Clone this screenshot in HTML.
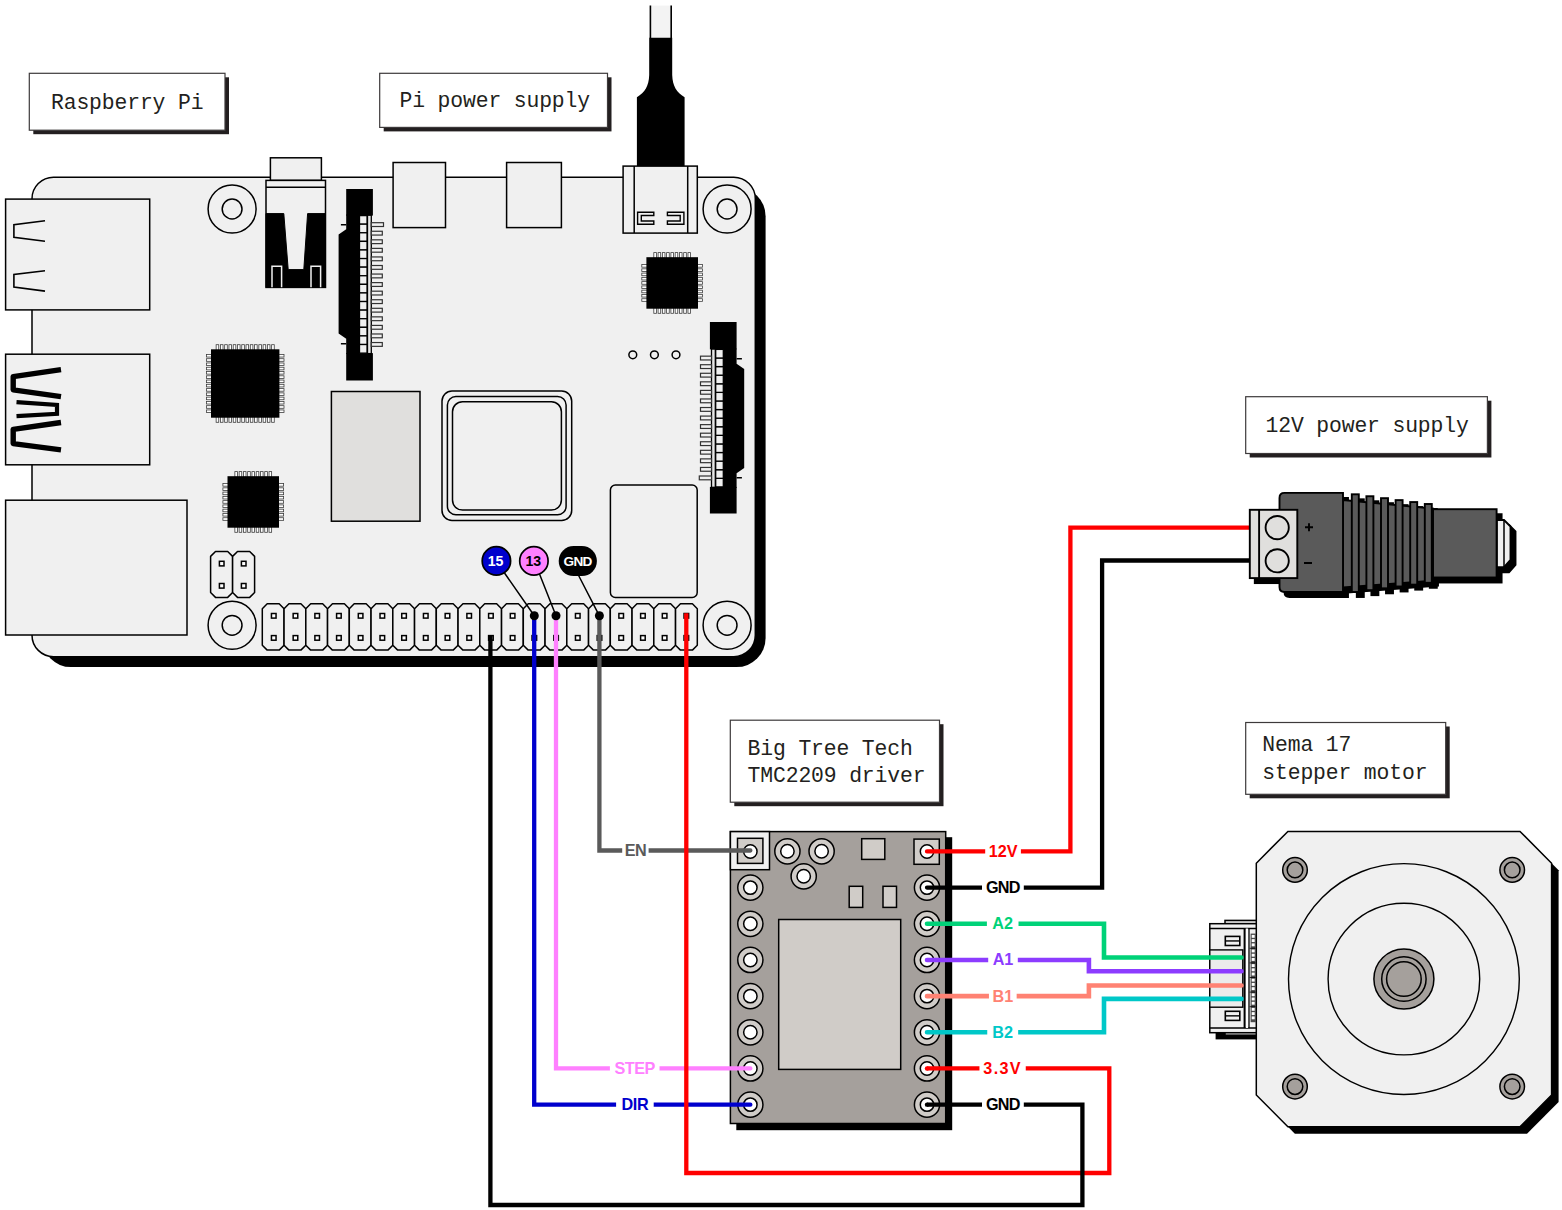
<!DOCTYPE html>
<html lang="en">
<head>
<meta charset="utf-8">
<title>Raspberry Pi - TMC2209 - Nema 17 wiring</title>
<style>
html,body{margin:0;padding:0;background:#fff;}
body{width:1562px;height:1210px;overflow:hidden;}
svg{display:block;}
.lab{font-family:"Liberation Mono","DejaVu Sans Mono",monospace;fill:#231f20;}
.wl{font-family:"Liberation Sans","DejaVu Sans",sans-serif;font-weight:bold;text-anchor:middle;}
.leg{fill:#fff;stroke:#3c3c3c;stroke-width:0.8;}
</style>
</head>
<body>
<svg width="1562" height="1210" viewBox="0 0 1562 1210">
<rect width="1562" height="1210" fill="#fff"/>
<rect x="42" y="187.2" width="723.6" height="479.9" rx="29" fill="#000"/>
<rect x="32" y="177.2" width="723.3" height="479.5" rx="21.5" fill="#f0f0f0" stroke="#000" stroke-width="1.5"/>
<circle cx="232.10" cy="209.00" r="24.00" fill="#f0f0f0" stroke="#000" stroke-width="1.5"/>
<circle cx="232.10" cy="209.00" r="9.90" fill="#f0f0f0" stroke="#000" stroke-width="1.5"/>
<circle cx="727.10" cy="209.00" r="24.00" fill="#f0f0f0" stroke="#000" stroke-width="1.5"/>
<circle cx="727.10" cy="209.00" r="9.90" fill="#f0f0f0" stroke="#000" stroke-width="1.5"/>
<circle cx="232.10" cy="625.30" r="24.00" fill="#f0f0f0" stroke="#000" stroke-width="1.5"/>
<circle cx="232.10" cy="625.30" r="9.90" fill="#f0f0f0" stroke="#000" stroke-width="1.5"/>
<circle cx="727.10" cy="625.30" r="24.00" fill="#f0f0f0" stroke="#000" stroke-width="1.5"/>
<circle cx="727.10" cy="625.30" r="9.90" fill="#f0f0f0" stroke="#000" stroke-width="1.5"/>
<rect x="5.60" y="199.10" width="144.10" height="110.80" fill="#f0f0f0" stroke="#000" stroke-width="1.5"/>
<rect x="5.60" y="354.20" width="144.10" height="110.60" fill="#f0f0f0" stroke="#000" stroke-width="1.5"/>
<rect x="5.60" y="500.20" width="181.40" height="134.80" fill="#f0f0f0" stroke="#000" stroke-width="1.5"/>
<path d="M45 220.7L13.9 224.7L13.9 237.4L45 241.2" fill="none" stroke="#000" stroke-width="1.6" />
<path d="M45 270.7L13.9 274.4L13.9 287L45 291.1" fill="none" stroke="#000" stroke-width="1.6" />
<path d="M61 369.6L13.2 376.6L13.2 389.8L61 396.7" fill="none" stroke="#000" stroke-width="5.4" stroke-linejoin="round"/>
<path d="M61 422.5L13.2 429.3L13.2 443.6L61 449.9" fill="none" stroke="#000" stroke-width="5.4" stroke-linejoin="round"/>
<path d="M16.5 402.2L57 405L57 413.8L16.5 416.1" fill="none" stroke="#000" stroke-width="4.2" />
<rect x="270.40" y="157.80" width="51.00" height="22.60" fill="#f0f0f0" stroke="#000" stroke-width="1.5"/>
<rect x="266.00" y="180.40" width="59.50" height="107.00" fill="#f0f0f0" stroke="#000" stroke-width="1.5"/>
<path d="M266 187.3L325.5 187.3" fill="none" stroke="#000" stroke-width="1.5" />
<path d="M266 213.6L283.8 213.6L288.2 269.6L303.8 269.6L307.6 213.6L325.5 213.6L325.5 287.4L266 287.4Z" fill="#000" stroke="#000" stroke-width="1" />
<path d="M272 287.2L272 266.2L281.6 266.2L281.6 287.2" fill="none" stroke="#f0f0f0" stroke-width="1.5" />
<path d="M311 287.2L311 266.2L320.6 266.2L320.6 287.2" fill="none" stroke="#f0f0f0" stroke-width="1.5" />
<g transform="translate(346.20 189.00)">
<rect x="13.3" y="26.60" width="7.6" height="8.59" fill="#f0f0f0" stroke="#000" stroke-width="1.3"/>
<rect x="13.3" y="35.19" width="7.6" height="8.59" fill="#f0f0f0" stroke="#000" stroke-width="1.3"/>
<rect x="13.3" y="43.79" width="7.6" height="8.59" fill="#f0f0f0" stroke="#000" stroke-width="1.3"/>
<rect x="13.3" y="52.38" width="7.6" height="8.59" fill="#f0f0f0" stroke="#000" stroke-width="1.3"/>
<rect x="13.3" y="60.98" width="7.6" height="8.59" fill="#f0f0f0" stroke="#000" stroke-width="1.3"/>
<rect x="13.3" y="69.57" width="7.6" height="8.59" fill="#f0f0f0" stroke="#000" stroke-width="1.3"/>
<rect x="13.3" y="78.16" width="7.6" height="8.59" fill="#f0f0f0" stroke="#000" stroke-width="1.3"/>
<rect x="13.3" y="86.76" width="7.6" height="8.59" fill="#f0f0f0" stroke="#000" stroke-width="1.3"/>
<rect x="13.3" y="95.35" width="7.6" height="8.59" fill="#f0f0f0" stroke="#000" stroke-width="1.3"/>
<rect x="13.3" y="103.94" width="7.6" height="8.59" fill="#f0f0f0" stroke="#000" stroke-width="1.3"/>
<rect x="13.3" y="112.54" width="7.6" height="8.59" fill="#f0f0f0" stroke="#000" stroke-width="1.3"/>
<rect x="13.3" y="121.13" width="7.6" height="8.59" fill="#f0f0f0" stroke="#000" stroke-width="1.3"/>
<rect x="13.3" y="129.72" width="7.6" height="8.59" fill="#f0f0f0" stroke="#000" stroke-width="1.3"/>
<rect x="13.3" y="138.32" width="7.6" height="8.59" fill="#f0f0f0" stroke="#000" stroke-width="1.3"/>
<rect x="13.3" y="146.91" width="7.6" height="8.59" fill="#f0f0f0" stroke="#000" stroke-width="1.3"/>
<rect x="13.3" y="155.51" width="7.6" height="8.59" fill="#f0f0f0" stroke="#000" stroke-width="1.3"/>
<rect x="21.3" y="26.10" width="3.8" height="138.50" fill="#e6e6e6" stroke="#000" stroke-width="1.3"/>
<rect x="25.1" y="33.70" width="12.2" height="3.8" fill="#f0f0f0" stroke="#333" stroke-width="1.2"/>
<rect x="25.1" y="42.26" width="11" height="3.8" fill="#f0f0f0" stroke="#333" stroke-width="1.2"/>
<rect x="25.1" y="50.82" width="11" height="3.8" fill="#f0f0f0" stroke="#333" stroke-width="1.2"/>
<rect x="25.1" y="59.38" width="11" height="3.8" fill="#f0f0f0" stroke="#333" stroke-width="1.2"/>
<rect x="25.1" y="67.94" width="11" height="3.8" fill="#f0f0f0" stroke="#333" stroke-width="1.2"/>
<rect x="25.1" y="76.50" width="11" height="3.8" fill="#f0f0f0" stroke="#333" stroke-width="1.2"/>
<rect x="25.1" y="85.06" width="11" height="3.8" fill="#f0f0f0" stroke="#333" stroke-width="1.2"/>
<rect x="25.1" y="93.62" width="11" height="3.8" fill="#f0f0f0" stroke="#333" stroke-width="1.2"/>
<rect x="25.1" y="102.18" width="11" height="3.8" fill="#f0f0f0" stroke="#333" stroke-width="1.2"/>
<rect x="25.1" y="110.74" width="11" height="3.8" fill="#f0f0f0" stroke="#333" stroke-width="1.2"/>
<rect x="25.1" y="119.30" width="11" height="3.8" fill="#f0f0f0" stroke="#333" stroke-width="1.2"/>
<rect x="25.1" y="127.86" width="11" height="3.8" fill="#f0f0f0" stroke="#333" stroke-width="1.2"/>
<rect x="25.1" y="136.42" width="11" height="3.8" fill="#f0f0f0" stroke="#333" stroke-width="1.2"/>
<rect x="25.1" y="144.98" width="11" height="3.8" fill="#f0f0f0" stroke="#333" stroke-width="1.2"/>
<rect x="25.1" y="153.54" width="11" height="3.8" fill="#f0f0f0" stroke="#333" stroke-width="1.2"/>
<rect x="0" y="0" width="26.7" height="26.6" fill="#000"/>
<rect x="0" y="164.10" width="26.7" height="27.4" fill="#000"/>
<path d="M0 25.6L13.3 25.6L13.3 165.1L0 165.1L0 149.8L-7.6 144.5L-7.6 45.6L0 40.3Z" fill="#000"/>
<path d="M-5.3 35.8L0 35.8M-5.3 154.8L0 154.8" stroke="#000" stroke-width="1.5"/>
</g>
<g transform="translate(736.60 513.50) scale(-1 -1)">
<rect x="13.3" y="26.60" width="7.6" height="8.59" fill="#f0f0f0" stroke="#000" stroke-width="1.3"/>
<rect x="13.3" y="35.19" width="7.6" height="8.59" fill="#f0f0f0" stroke="#000" stroke-width="1.3"/>
<rect x="13.3" y="43.79" width="7.6" height="8.59" fill="#f0f0f0" stroke="#000" stroke-width="1.3"/>
<rect x="13.3" y="52.38" width="7.6" height="8.59" fill="#f0f0f0" stroke="#000" stroke-width="1.3"/>
<rect x="13.3" y="60.98" width="7.6" height="8.59" fill="#f0f0f0" stroke="#000" stroke-width="1.3"/>
<rect x="13.3" y="69.57" width="7.6" height="8.59" fill="#f0f0f0" stroke="#000" stroke-width="1.3"/>
<rect x="13.3" y="78.16" width="7.6" height="8.59" fill="#f0f0f0" stroke="#000" stroke-width="1.3"/>
<rect x="13.3" y="86.76" width="7.6" height="8.59" fill="#f0f0f0" stroke="#000" stroke-width="1.3"/>
<rect x="13.3" y="95.35" width="7.6" height="8.59" fill="#f0f0f0" stroke="#000" stroke-width="1.3"/>
<rect x="13.3" y="103.94" width="7.6" height="8.59" fill="#f0f0f0" stroke="#000" stroke-width="1.3"/>
<rect x="13.3" y="112.54" width="7.6" height="8.59" fill="#f0f0f0" stroke="#000" stroke-width="1.3"/>
<rect x="13.3" y="121.13" width="7.6" height="8.59" fill="#f0f0f0" stroke="#000" stroke-width="1.3"/>
<rect x="13.3" y="129.72" width="7.6" height="8.59" fill="#f0f0f0" stroke="#000" stroke-width="1.3"/>
<rect x="13.3" y="138.32" width="7.6" height="8.59" fill="#f0f0f0" stroke="#000" stroke-width="1.3"/>
<rect x="13.3" y="146.91" width="7.6" height="8.59" fill="#f0f0f0" stroke="#000" stroke-width="1.3"/>
<rect x="13.3" y="155.51" width="7.6" height="8.59" fill="#f0f0f0" stroke="#000" stroke-width="1.3"/>
<rect x="21.3" y="26.10" width="3.8" height="138.50" fill="#e6e6e6" stroke="#000" stroke-width="1.3"/>
<rect x="25.1" y="33.70" width="12.2" height="3.8" fill="#f0f0f0" stroke="#333" stroke-width="1.2"/>
<rect x="25.1" y="42.26" width="11" height="3.8" fill="#f0f0f0" stroke="#333" stroke-width="1.2"/>
<rect x="25.1" y="50.82" width="11" height="3.8" fill="#f0f0f0" stroke="#333" stroke-width="1.2"/>
<rect x="25.1" y="59.38" width="11" height="3.8" fill="#f0f0f0" stroke="#333" stroke-width="1.2"/>
<rect x="25.1" y="67.94" width="11" height="3.8" fill="#f0f0f0" stroke="#333" stroke-width="1.2"/>
<rect x="25.1" y="76.50" width="11" height="3.8" fill="#f0f0f0" stroke="#333" stroke-width="1.2"/>
<rect x="25.1" y="85.06" width="11" height="3.8" fill="#f0f0f0" stroke="#333" stroke-width="1.2"/>
<rect x="25.1" y="93.62" width="11" height="3.8" fill="#f0f0f0" stroke="#333" stroke-width="1.2"/>
<rect x="25.1" y="102.18" width="11" height="3.8" fill="#f0f0f0" stroke="#333" stroke-width="1.2"/>
<rect x="25.1" y="110.74" width="11" height="3.8" fill="#f0f0f0" stroke="#333" stroke-width="1.2"/>
<rect x="25.1" y="119.30" width="11" height="3.8" fill="#f0f0f0" stroke="#333" stroke-width="1.2"/>
<rect x="25.1" y="127.86" width="11" height="3.8" fill="#f0f0f0" stroke="#333" stroke-width="1.2"/>
<rect x="25.1" y="136.42" width="11" height="3.8" fill="#f0f0f0" stroke="#333" stroke-width="1.2"/>
<rect x="25.1" y="144.98" width="11" height="3.8" fill="#f0f0f0" stroke="#333" stroke-width="1.2"/>
<rect x="25.1" y="153.54" width="11" height="3.8" fill="#f0f0f0" stroke="#333" stroke-width="1.2"/>
<rect x="0" y="0" width="26.7" height="26.6" fill="#000"/>
<rect x="0" y="164.10" width="26.7" height="27.4" fill="#000"/>
<path d="M0 25.6L13.3 25.6L13.3 165.1L0 165.1L0 149.8L-7.6 144.5L-7.6 45.6L0 40.3Z" fill="#000"/>
<path d="M-5.3 35.8L0 35.8M-5.3 154.8L0 154.8" stroke="#000" stroke-width="1.5"/>
</g>
<rect x="393.10" y="162.50" width="52.40" height="65.10" fill="#f0f0f0" stroke="#000" stroke-width="1.5"/>
<rect x="506.60" y="162.50" width="54.80" height="65.10" fill="#f0f0f0" stroke="#000" stroke-width="1.5"/>
<rect x="216.14" y="344.70" width="2.6" height="5.6" class="leg"/>
<rect x="216.14" y="416.70" width="2.6" height="5.6" class="leg"/>
<rect x="206.40" y="354.44" width="5.6" height="2.6" class="leg"/>
<rect x="278.40" y="354.44" width="5.6" height="2.6" class="leg"/>
<rect x="220.41" y="344.70" width="2.6" height="5.6" class="leg"/>
<rect x="220.41" y="416.70" width="2.6" height="5.6" class="leg"/>
<rect x="206.40" y="358.71" width="5.6" height="2.6" class="leg"/>
<rect x="278.40" y="358.71" width="5.6" height="2.6" class="leg"/>
<rect x="224.68" y="344.70" width="2.6" height="5.6" class="leg"/>
<rect x="224.68" y="416.70" width="2.6" height="5.6" class="leg"/>
<rect x="206.40" y="362.99" width="5.6" height="2.6" class="leg"/>
<rect x="278.40" y="362.99" width="5.6" height="2.6" class="leg"/>
<rect x="228.95" y="344.70" width="2.6" height="5.6" class="leg"/>
<rect x="228.95" y="416.70" width="2.6" height="5.6" class="leg"/>
<rect x="206.40" y="367.25" width="5.6" height="2.6" class="leg"/>
<rect x="278.40" y="367.25" width="5.6" height="2.6" class="leg"/>
<rect x="233.22" y="344.70" width="2.6" height="5.6" class="leg"/>
<rect x="233.22" y="416.70" width="2.6" height="5.6" class="leg"/>
<rect x="206.40" y="371.52" width="5.6" height="2.6" class="leg"/>
<rect x="278.40" y="371.52" width="5.6" height="2.6" class="leg"/>
<rect x="237.49" y="344.70" width="2.6" height="5.6" class="leg"/>
<rect x="237.49" y="416.70" width="2.6" height="5.6" class="leg"/>
<rect x="206.40" y="375.80" width="5.6" height="2.6" class="leg"/>
<rect x="278.40" y="375.80" width="5.6" height="2.6" class="leg"/>
<rect x="241.76" y="344.70" width="2.6" height="5.6" class="leg"/>
<rect x="241.76" y="416.70" width="2.6" height="5.6" class="leg"/>
<rect x="206.40" y="380.06" width="5.6" height="2.6" class="leg"/>
<rect x="278.40" y="380.06" width="5.6" height="2.6" class="leg"/>
<rect x="246.03" y="344.70" width="2.6" height="5.6" class="leg"/>
<rect x="246.03" y="416.70" width="2.6" height="5.6" class="leg"/>
<rect x="206.40" y="384.33" width="5.6" height="2.6" class="leg"/>
<rect x="278.40" y="384.33" width="5.6" height="2.6" class="leg"/>
<rect x="250.30" y="344.70" width="2.6" height="5.6" class="leg"/>
<rect x="250.30" y="416.70" width="2.6" height="5.6" class="leg"/>
<rect x="206.40" y="388.60" width="5.6" height="2.6" class="leg"/>
<rect x="278.40" y="388.60" width="5.6" height="2.6" class="leg"/>
<rect x="254.57" y="344.70" width="2.6" height="5.6" class="leg"/>
<rect x="254.57" y="416.70" width="2.6" height="5.6" class="leg"/>
<rect x="206.40" y="392.88" width="5.6" height="2.6" class="leg"/>
<rect x="278.40" y="392.88" width="5.6" height="2.6" class="leg"/>
<rect x="258.84" y="344.70" width="2.6" height="5.6" class="leg"/>
<rect x="258.84" y="416.70" width="2.6" height="5.6" class="leg"/>
<rect x="206.40" y="397.14" width="5.6" height="2.6" class="leg"/>
<rect x="278.40" y="397.14" width="5.6" height="2.6" class="leg"/>
<rect x="263.11" y="344.70" width="2.6" height="5.6" class="leg"/>
<rect x="263.11" y="416.70" width="2.6" height="5.6" class="leg"/>
<rect x="206.40" y="401.42" width="5.6" height="2.6" class="leg"/>
<rect x="278.40" y="401.42" width="5.6" height="2.6" class="leg"/>
<rect x="267.38" y="344.70" width="2.6" height="5.6" class="leg"/>
<rect x="267.38" y="416.70" width="2.6" height="5.6" class="leg"/>
<rect x="206.40" y="405.69" width="5.6" height="2.6" class="leg"/>
<rect x="278.40" y="405.69" width="5.6" height="2.6" class="leg"/>
<rect x="271.65" y="344.70" width="2.6" height="5.6" class="leg"/>
<rect x="271.65" y="416.70" width="2.6" height="5.6" class="leg"/>
<rect x="206.40" y="409.95" width="5.6" height="2.6" class="leg"/>
<rect x="278.40" y="409.95" width="5.6" height="2.6" class="leg"/>
<rect x="211.00" y="349.30" width="68.40" height="68.40" fill="#000"/>
<rect x="234.87" y="471.60" width="2.6" height="5.6" class="leg"/>
<rect x="234.87" y="526.70" width="2.6" height="5.6" class="leg"/>
<rect x="222.90" y="483.57" width="5.6" height="2.6" class="leg"/>
<rect x="278.00" y="483.57" width="5.6" height="2.6" class="leg"/>
<rect x="239.14" y="471.60" width="2.6" height="5.6" class="leg"/>
<rect x="239.14" y="526.70" width="2.6" height="5.6" class="leg"/>
<rect x="222.90" y="487.84" width="5.6" height="2.6" class="leg"/>
<rect x="278.00" y="487.84" width="5.6" height="2.6" class="leg"/>
<rect x="243.41" y="471.60" width="2.6" height="5.6" class="leg"/>
<rect x="243.41" y="526.70" width="2.6" height="5.6" class="leg"/>
<rect x="222.90" y="492.11" width="5.6" height="2.6" class="leg"/>
<rect x="278.00" y="492.11" width="5.6" height="2.6" class="leg"/>
<rect x="247.68" y="471.60" width="2.6" height="5.6" class="leg"/>
<rect x="247.68" y="526.70" width="2.6" height="5.6" class="leg"/>
<rect x="222.90" y="496.38" width="5.6" height="2.6" class="leg"/>
<rect x="278.00" y="496.38" width="5.6" height="2.6" class="leg"/>
<rect x="251.95" y="471.60" width="2.6" height="5.6" class="leg"/>
<rect x="251.95" y="526.70" width="2.6" height="5.6" class="leg"/>
<rect x="222.90" y="500.65" width="5.6" height="2.6" class="leg"/>
<rect x="278.00" y="500.65" width="5.6" height="2.6" class="leg"/>
<rect x="256.22" y="471.60" width="2.6" height="5.6" class="leg"/>
<rect x="256.22" y="526.70" width="2.6" height="5.6" class="leg"/>
<rect x="222.90" y="504.92" width="5.6" height="2.6" class="leg"/>
<rect x="278.00" y="504.92" width="5.6" height="2.6" class="leg"/>
<rect x="260.49" y="471.60" width="2.6" height="5.6" class="leg"/>
<rect x="260.49" y="526.70" width="2.6" height="5.6" class="leg"/>
<rect x="222.90" y="509.19" width="5.6" height="2.6" class="leg"/>
<rect x="278.00" y="509.19" width="5.6" height="2.6" class="leg"/>
<rect x="264.76" y="471.60" width="2.6" height="5.6" class="leg"/>
<rect x="264.76" y="526.70" width="2.6" height="5.6" class="leg"/>
<rect x="222.90" y="513.46" width="5.6" height="2.6" class="leg"/>
<rect x="278.00" y="513.46" width="5.6" height="2.6" class="leg"/>
<rect x="269.03" y="471.60" width="2.6" height="5.6" class="leg"/>
<rect x="269.03" y="526.70" width="2.6" height="5.6" class="leg"/>
<rect x="222.90" y="517.73" width="5.6" height="2.6" class="leg"/>
<rect x="278.00" y="517.73" width="5.6" height="2.6" class="leg"/>
<rect x="227.50" y="476.20" width="51.50" height="51.50" fill="#000"/>
<rect x="653.82" y="252.60" width="2.6" height="5.6" class="leg"/>
<rect x="653.82" y="307.70" width="2.6" height="5.6" class="leg"/>
<rect x="641.80" y="264.57" width="5.6" height="2.6" class="leg"/>
<rect x="697.00" y="264.57" width="5.6" height="2.6" class="leg"/>
<rect x="658.09" y="252.60" width="2.6" height="5.6" class="leg"/>
<rect x="658.09" y="307.70" width="2.6" height="5.6" class="leg"/>
<rect x="641.80" y="268.84" width="5.6" height="2.6" class="leg"/>
<rect x="697.00" y="268.84" width="5.6" height="2.6" class="leg"/>
<rect x="662.36" y="252.60" width="2.6" height="5.6" class="leg"/>
<rect x="662.36" y="307.70" width="2.6" height="5.6" class="leg"/>
<rect x="641.80" y="273.11" width="5.6" height="2.6" class="leg"/>
<rect x="697.00" y="273.11" width="5.6" height="2.6" class="leg"/>
<rect x="666.63" y="252.60" width="2.6" height="5.6" class="leg"/>
<rect x="666.63" y="307.70" width="2.6" height="5.6" class="leg"/>
<rect x="641.80" y="277.38" width="5.6" height="2.6" class="leg"/>
<rect x="697.00" y="277.38" width="5.6" height="2.6" class="leg"/>
<rect x="670.90" y="252.60" width="2.6" height="5.6" class="leg"/>
<rect x="670.90" y="307.70" width="2.6" height="5.6" class="leg"/>
<rect x="641.80" y="281.65" width="5.6" height="2.6" class="leg"/>
<rect x="697.00" y="281.65" width="5.6" height="2.6" class="leg"/>
<rect x="675.17" y="252.60" width="2.6" height="5.6" class="leg"/>
<rect x="675.17" y="307.70" width="2.6" height="5.6" class="leg"/>
<rect x="641.80" y="285.92" width="5.6" height="2.6" class="leg"/>
<rect x="697.00" y="285.92" width="5.6" height="2.6" class="leg"/>
<rect x="679.44" y="252.60" width="2.6" height="5.6" class="leg"/>
<rect x="679.44" y="307.70" width="2.6" height="5.6" class="leg"/>
<rect x="641.80" y="290.19" width="5.6" height="2.6" class="leg"/>
<rect x="697.00" y="290.19" width="5.6" height="2.6" class="leg"/>
<rect x="683.71" y="252.60" width="2.6" height="5.6" class="leg"/>
<rect x="683.71" y="307.70" width="2.6" height="5.6" class="leg"/>
<rect x="641.80" y="294.46" width="5.6" height="2.6" class="leg"/>
<rect x="697.00" y="294.46" width="5.6" height="2.6" class="leg"/>
<rect x="687.98" y="252.60" width="2.6" height="5.6" class="leg"/>
<rect x="687.98" y="307.70" width="2.6" height="5.6" class="leg"/>
<rect x="641.80" y="298.73" width="5.6" height="2.6" class="leg"/>
<rect x="697.00" y="298.73" width="5.6" height="2.6" class="leg"/>
<rect x="646.40" y="257.20" width="51.60" height="51.50" fill="#000"/>
<rect x="331.40" y="391.50" width="88.60" height="129.70" fill="#e0dfdd" stroke="#000" stroke-width="1.5"/>
<rect x="442.00" y="391.00" width="129.70" height="129.50" fill="#f0f0f0" stroke="#000" stroke-width="1.5" rx="10"/>
<rect x="447.40" y="396.60" width="118.70" height="118.20" fill="#f0f0f0" stroke="#000" stroke-width="1.5" rx="8.5"/>
<rect x="452.50" y="401.70" width="108.90" height="108.40" fill="#f0f0f0" stroke="#000" stroke-width="1.5" rx="10"/>
<rect x="610.40" y="485.00" width="86.80" height="112.40" fill="#f0f0f0" stroke="#000" stroke-width="1.5" rx="5"/>
<circle cx="632.80" cy="354.80" r="3.90" fill="#f0f0f0" stroke="#000" stroke-width="1.5"/>
<circle cx="654.40" cy="354.80" r="3.90" fill="#f0f0f0" stroke="#000" stroke-width="1.5"/>
<circle cx="676.00" cy="354.80" r="3.90" fill="#f0f0f0" stroke="#000" stroke-width="1.5"/>
<path d="M215.50 551.50L227.70 551.50L232.60 556.40L232.60 592.50L227.70 597.40L215.50 597.40L210.60 592.50L210.60 556.40Z" fill="#f0f0f0" stroke="#000" stroke-width="1.5" stroke-linejoin="round"/>
<rect x="219.40" y="561.30" width="4.6" height="4.6" fill="#fff" stroke="#000" stroke-width="1.5"/>
<rect x="219.40" y="583.50" width="4.6" height="4.6" fill="#fff" stroke="#000" stroke-width="1.5"/>
<path d="M237.50 551.50L249.70 551.50L254.60 556.40L254.60 592.50L249.70 597.40L237.50 597.40L232.60 592.50L232.60 556.40Z" fill="#f0f0f0" stroke="#000" stroke-width="1.5" stroke-linejoin="round"/>
<rect x="241.40" y="561.30" width="4.6" height="4.6" fill="#fff" stroke="#000" stroke-width="1.5"/>
<rect x="241.40" y="583.50" width="4.6" height="4.6" fill="#fff" stroke="#000" stroke-width="1.5"/>
<path d="M267.20 603.80L279.15 603.80L284.05 608.70L284.05 645.20L279.15 650.10L267.20 650.10L262.30 645.20L262.30 608.70Z" fill="#f0f0f0" stroke="#000" stroke-width="1.5" stroke-linejoin="round"/>
<rect x="271.45" y="613.50" width="4.6" height="4.6" fill="#fff" stroke="#000" stroke-width="1.5"/>
<rect x="271.45" y="635.60" width="4.6" height="4.6" fill="#fff" stroke="#000" stroke-width="1.5"/>
<path d="M288.95 603.80L300.90 603.80L305.80 608.70L305.80 645.20L300.90 650.10L288.95 650.10L284.05 645.20L284.05 608.70Z" fill="#f0f0f0" stroke="#000" stroke-width="1.5" stroke-linejoin="round"/>
<rect x="293.16" y="613.50" width="4.6" height="4.6" fill="#fff" stroke="#000" stroke-width="1.5"/>
<rect x="293.16" y="635.60" width="4.6" height="4.6" fill="#fff" stroke="#000" stroke-width="1.5"/>
<path d="M310.70 603.80L322.65 603.80L327.55 608.70L327.55 645.20L322.65 650.10L310.70 650.10L305.80 645.20L305.80 608.70Z" fill="#f0f0f0" stroke="#000" stroke-width="1.5" stroke-linejoin="round"/>
<rect x="314.88" y="613.50" width="4.6" height="4.6" fill="#fff" stroke="#000" stroke-width="1.5"/>
<rect x="314.88" y="635.60" width="4.6" height="4.6" fill="#fff" stroke="#000" stroke-width="1.5"/>
<path d="M332.45 603.80L344.40 603.80L349.30 608.70L349.30 645.20L344.40 650.10L332.45 650.10L327.55 645.20L327.55 608.70Z" fill="#f0f0f0" stroke="#000" stroke-width="1.5" stroke-linejoin="round"/>
<rect x="336.59" y="613.50" width="4.6" height="4.6" fill="#fff" stroke="#000" stroke-width="1.5"/>
<rect x="336.59" y="635.60" width="4.6" height="4.6" fill="#fff" stroke="#000" stroke-width="1.5"/>
<path d="M354.20 603.80L366.15 603.80L371.05 608.70L371.05 645.20L366.15 650.10L354.20 650.10L349.30 645.20L349.30 608.70Z" fill="#f0f0f0" stroke="#000" stroke-width="1.5" stroke-linejoin="round"/>
<rect x="358.31" y="613.50" width="4.6" height="4.6" fill="#fff" stroke="#000" stroke-width="1.5"/>
<rect x="358.31" y="635.60" width="4.6" height="4.6" fill="#fff" stroke="#000" stroke-width="1.5"/>
<path d="M375.95 603.80L387.90 603.80L392.80 608.70L392.80 645.20L387.90 650.10L375.95 650.10L371.05 645.20L371.05 608.70Z" fill="#f0f0f0" stroke="#000" stroke-width="1.5" stroke-linejoin="round"/>
<rect x="380.02" y="613.50" width="4.6" height="4.6" fill="#fff" stroke="#000" stroke-width="1.5"/>
<rect x="380.02" y="635.60" width="4.6" height="4.6" fill="#fff" stroke="#000" stroke-width="1.5"/>
<path d="M397.70 603.80L409.65 603.80L414.55 608.70L414.55 645.20L409.65 650.10L397.70 650.10L392.80 645.20L392.80 608.70Z" fill="#f0f0f0" stroke="#000" stroke-width="1.5" stroke-linejoin="round"/>
<rect x="401.74" y="613.50" width="4.6" height="4.6" fill="#fff" stroke="#000" stroke-width="1.5"/>
<rect x="401.74" y="635.60" width="4.6" height="4.6" fill="#fff" stroke="#000" stroke-width="1.5"/>
<path d="M419.45 603.80L431.40 603.80L436.30 608.70L436.30 645.20L431.40 650.10L419.45 650.10L414.55 645.20L414.55 608.70Z" fill="#f0f0f0" stroke="#000" stroke-width="1.5" stroke-linejoin="round"/>
<rect x="423.45" y="613.50" width="4.6" height="4.6" fill="#fff" stroke="#000" stroke-width="1.5"/>
<rect x="423.45" y="635.60" width="4.6" height="4.6" fill="#fff" stroke="#000" stroke-width="1.5"/>
<path d="M441.20 603.80L453.15 603.80L458.05 608.70L458.05 645.20L453.15 650.10L441.20 650.10L436.30 645.20L436.30 608.70Z" fill="#f0f0f0" stroke="#000" stroke-width="1.5" stroke-linejoin="round"/>
<rect x="445.17" y="613.50" width="4.6" height="4.6" fill="#fff" stroke="#000" stroke-width="1.5"/>
<rect x="445.17" y="635.60" width="4.6" height="4.6" fill="#fff" stroke="#000" stroke-width="1.5"/>
<path d="M462.95 603.80L474.90 603.80L479.80 608.70L479.80 645.20L474.90 650.10L462.95 650.10L458.05 645.20L458.05 608.70Z" fill="#f0f0f0" stroke="#000" stroke-width="1.5" stroke-linejoin="round"/>
<rect x="466.88" y="613.50" width="4.6" height="4.6" fill="#fff" stroke="#000" stroke-width="1.5"/>
<rect x="466.88" y="635.60" width="4.6" height="4.6" fill="#fff" stroke="#000" stroke-width="1.5"/>
<path d="M484.70 603.80L496.65 603.80L501.55 608.70L501.55 645.20L496.65 650.10L484.70 650.10L479.80 645.20L479.80 608.70Z" fill="#f0f0f0" stroke="#000" stroke-width="1.5" stroke-linejoin="round"/>
<rect x="488.60" y="613.50" width="4.6" height="4.6" fill="#fff" stroke="#000" stroke-width="1.5"/>
<rect x="488.60" y="635.60" width="4.6" height="4.6" fill="#fff" stroke="#000" stroke-width="1.5"/>
<path d="M506.45 603.80L518.40 603.80L523.30 608.70L523.30 645.20L518.40 650.10L506.45 650.10L501.55 645.20L501.55 608.70Z" fill="#f0f0f0" stroke="#000" stroke-width="1.5" stroke-linejoin="round"/>
<rect x="510.31" y="613.50" width="4.6" height="4.6" fill="#fff" stroke="#000" stroke-width="1.5"/>
<rect x="510.31" y="635.60" width="4.6" height="4.6" fill="#fff" stroke="#000" stroke-width="1.5"/>
<path d="M528.20 603.80L540.15 603.80L545.05 608.70L545.05 645.20L540.15 650.10L528.20 650.10L523.30 645.20L523.30 608.70Z" fill="#f0f0f0" stroke="#000" stroke-width="1.5" stroke-linejoin="round"/>
<rect x="532.03" y="613.50" width="4.6" height="4.6" fill="#fff" stroke="#000" stroke-width="1.5"/>
<rect x="532.03" y="635.60" width="4.6" height="4.6" fill="#fff" stroke="#000" stroke-width="1.5"/>
<path d="M549.95 603.80L561.90 603.80L566.80 608.70L566.80 645.20L561.90 650.10L549.95 650.10L545.05 645.20L545.05 608.70Z" fill="#f0f0f0" stroke="#000" stroke-width="1.5" stroke-linejoin="round"/>
<rect x="553.75" y="613.50" width="4.6" height="4.6" fill="#fff" stroke="#000" stroke-width="1.5"/>
<rect x="553.75" y="635.60" width="4.6" height="4.6" fill="#fff" stroke="#000" stroke-width="1.5"/>
<path d="M571.70 603.80L583.65 603.80L588.55 608.70L588.55 645.20L583.65 650.10L571.70 650.10L566.80 645.20L566.80 608.70Z" fill="#f0f0f0" stroke="#000" stroke-width="1.5" stroke-linejoin="round"/>
<rect x="575.46" y="613.50" width="4.6" height="4.6" fill="#fff" stroke="#000" stroke-width="1.5"/>
<rect x="575.46" y="635.60" width="4.6" height="4.6" fill="#fff" stroke="#000" stroke-width="1.5"/>
<path d="M593.45 603.80L605.40 603.80L610.30 608.70L610.30 645.20L605.40 650.10L593.45 650.10L588.55 645.20L588.55 608.70Z" fill="#f0f0f0" stroke="#000" stroke-width="1.5" stroke-linejoin="round"/>
<rect x="597.18" y="613.50" width="4.6" height="4.6" fill="#fff" stroke="#000" stroke-width="1.5"/>
<rect x="597.18" y="635.60" width="4.6" height="4.6" fill="#fff" stroke="#000" stroke-width="1.5"/>
<path d="M615.20 603.80L627.15 603.80L632.05 608.70L632.05 645.20L627.15 650.10L615.20 650.10L610.30 645.20L610.30 608.70Z" fill="#f0f0f0" stroke="#000" stroke-width="1.5" stroke-linejoin="round"/>
<rect x="618.89" y="613.50" width="4.6" height="4.6" fill="#fff" stroke="#000" stroke-width="1.5"/>
<rect x="618.89" y="635.60" width="4.6" height="4.6" fill="#fff" stroke="#000" stroke-width="1.5"/>
<path d="M636.95 603.80L648.90 603.80L653.80 608.70L653.80 645.20L648.90 650.10L636.95 650.10L632.05 645.20L632.05 608.70Z" fill="#f0f0f0" stroke="#000" stroke-width="1.5" stroke-linejoin="round"/>
<rect x="640.61" y="613.50" width="4.6" height="4.6" fill="#fff" stroke="#000" stroke-width="1.5"/>
<rect x="640.61" y="635.60" width="4.6" height="4.6" fill="#fff" stroke="#000" stroke-width="1.5"/>
<path d="M658.70 603.80L670.65 603.80L675.55 608.70L675.55 645.20L670.65 650.10L658.70 650.10L653.80 645.20L653.80 608.70Z" fill="#f0f0f0" stroke="#000" stroke-width="1.5" stroke-linejoin="round"/>
<rect x="662.32" y="613.50" width="4.6" height="4.6" fill="#fff" stroke="#000" stroke-width="1.5"/>
<rect x="662.32" y="635.60" width="4.6" height="4.6" fill="#fff" stroke="#000" stroke-width="1.5"/>
<path d="M680.45 603.80L692.40 603.80L697.30 608.70L697.30 645.20L692.40 650.10L680.45 650.10L675.55 645.20L675.55 608.70Z" fill="#f0f0f0" stroke="#000" stroke-width="1.5" stroke-linejoin="round"/>
<rect x="684.04" y="613.50" width="4.6" height="4.6" fill="#fff" stroke="#000" stroke-width="1.5"/>
<rect x="684.04" y="635.60" width="4.6" height="4.6" fill="#fff" stroke="#000" stroke-width="1.5"/>
<rect x="650.4" y="5.6" width="20.8" height="33" fill="#f3f3f3"/>
<path d="M650.4 5.6L650.4 38M671.2 5.6L671.2 38" fill="none" stroke="#000" stroke-width="1.6" />
<path d="M649.2 37.8L672.2 37.8L672.2 75C672.6 86 676.5 92.5 684.6 97.2L684.6 167L636.9 167L636.9 97.2C645 92.5 648.8 86 649.2 75Z" fill="#000" stroke="none" stroke-width="1.5" />
<rect x="623.10" y="166.10" width="74.20" height="67.00" fill="#f0f0f0" stroke="#000" stroke-width="1.5"/>
<path d="M634.2 166.1L634.2 233.1M687.7 166.1L687.7 233.1" fill="none" stroke="#000" stroke-width="1.5" />
<path d="M653.8 212.2L637.6 212.2L637.6 224.3L653.8 224.3L653.8 221L641.3 221L641.3 215.5L653.8 215.5Z" fill="#f0f0f0" stroke="#000" stroke-width="1.4" />
<path d="M667.4 212.2L683.9 212.2L683.9 224.3L667.4 224.3L667.4 221L680.2 221L680.2 215.5L667.4 215.5Z" fill="#f0f0f0" stroke="#000" stroke-width="1.4" />
<rect x="736.3" y="837.2" width="215.9" height="293" fill="#000"/>
<rect x="730.40" y="831.60" width="215.30" height="291.90" fill="#a5a09c" stroke="#000" stroke-width="1.5"/>
<rect x="730.40" y="831.60" width="39.10" height="38.10" fill="#f0f0f0" stroke="#000" stroke-width="1.5"/>
<rect x="737.50" y="838.30" width="25.40" height="25.10" fill="#d0ccc8" stroke="#000" stroke-width="1.5"/>
<circle cx="750.35" cy="851.45" r="6.70" fill="#fff" stroke="#000" stroke-width="1.5"/>
<circle cx="750.35" cy="887.62" r="12.60" fill="#d0ccc8" stroke="#000" stroke-width="1.5"/>
<circle cx="750.35" cy="887.62" r="6.70" fill="#fff" stroke="#000" stroke-width="1.5"/>
<circle cx="750.35" cy="923.79" r="12.60" fill="#d0ccc8" stroke="#000" stroke-width="1.5"/>
<circle cx="750.35" cy="923.79" r="6.70" fill="#fff" stroke="#000" stroke-width="1.5"/>
<circle cx="750.35" cy="959.96" r="12.60" fill="#d0ccc8" stroke="#000" stroke-width="1.5"/>
<circle cx="750.35" cy="959.96" r="6.70" fill="#fff" stroke="#000" stroke-width="1.5"/>
<circle cx="750.35" cy="996.13" r="12.60" fill="#d0ccc8" stroke="#000" stroke-width="1.5"/>
<circle cx="750.35" cy="996.13" r="6.70" fill="#fff" stroke="#000" stroke-width="1.5"/>
<circle cx="750.35" cy="1032.30" r="12.60" fill="#d0ccc8" stroke="#000" stroke-width="1.5"/>
<circle cx="750.35" cy="1032.30" r="6.70" fill="#fff" stroke="#000" stroke-width="1.5"/>
<circle cx="750.35" cy="1068.47" r="12.60" fill="#d0ccc8" stroke="#000" stroke-width="1.5"/>
<circle cx="750.35" cy="1068.47" r="6.70" fill="#fff" stroke="#000" stroke-width="1.5"/>
<circle cx="750.35" cy="1104.64" r="12.60" fill="#d0ccc8" stroke="#000" stroke-width="1.5"/>
<circle cx="750.35" cy="1104.64" r="6.70" fill="#fff" stroke="#000" stroke-width="1.5"/>
<rect x="914.00" y="839.10" width="25.30" height="25.20" fill="#d0ccc8" stroke="#000" stroke-width="1.5"/>
<circle cx="927.00" cy="851.45" r="6.70" fill="#fff" stroke="#000" stroke-width="1.5"/>
<circle cx="927.00" cy="887.62" r="12.60" fill="#d0ccc8" stroke="#000" stroke-width="1.5"/>
<circle cx="927.00" cy="887.62" r="6.70" fill="#fff" stroke="#000" stroke-width="1.5"/>
<circle cx="927.00" cy="923.79" r="12.60" fill="#d0ccc8" stroke="#000" stroke-width="1.5"/>
<circle cx="927.00" cy="923.79" r="6.70" fill="#fff" stroke="#000" stroke-width="1.5"/>
<circle cx="927.00" cy="959.96" r="12.60" fill="#d0ccc8" stroke="#000" stroke-width="1.5"/>
<circle cx="927.00" cy="959.96" r="6.70" fill="#fff" stroke="#000" stroke-width="1.5"/>
<circle cx="927.00" cy="996.13" r="12.60" fill="#d0ccc8" stroke="#000" stroke-width="1.5"/>
<circle cx="927.00" cy="996.13" r="6.70" fill="#fff" stroke="#000" stroke-width="1.5"/>
<circle cx="927.00" cy="1032.30" r="12.60" fill="#d0ccc8" stroke="#000" stroke-width="1.5"/>
<circle cx="927.00" cy="1032.30" r="6.70" fill="#fff" stroke="#000" stroke-width="1.5"/>
<circle cx="927.00" cy="1068.47" r="12.60" fill="#d0ccc8" stroke="#000" stroke-width="1.5"/>
<circle cx="927.00" cy="1068.47" r="6.70" fill="#fff" stroke="#000" stroke-width="1.5"/>
<circle cx="927.00" cy="1104.64" r="12.60" fill="#d0ccc8" stroke="#000" stroke-width="1.5"/>
<circle cx="927.00" cy="1104.64" r="6.70" fill="#fff" stroke="#000" stroke-width="1.5"/>
<circle cx="787.40" cy="851.30" r="12.60" fill="#d0ccc8" stroke="#000" stroke-width="1.5"/>
<circle cx="787.40" cy="851.30" r="6.70" fill="#fff" stroke="#000" stroke-width="1.5"/>
<circle cx="821.60" cy="851.30" r="12.60" fill="#d0ccc8" stroke="#000" stroke-width="1.5"/>
<circle cx="821.60" cy="851.30" r="6.70" fill="#fff" stroke="#000" stroke-width="1.5"/>
<circle cx="803.70" cy="876.30" r="12.60" fill="#d0ccc8" stroke="#000" stroke-width="1.5"/>
<circle cx="803.70" cy="876.30" r="6.70" fill="#fff" stroke="#000" stroke-width="1.5"/>
<rect x="861.70" y="838.70" width="23.10" height="20.70" fill="#d0ccc8" stroke="#000" stroke-width="1.5"/>
<rect x="849.20" y="886.30" width="13.50" height="21.10" fill="#d0ccc8" stroke="#000" stroke-width="1.5"/>
<rect x="883.00" y="886.30" width="13.50" height="21.10" fill="#d0ccc8" stroke="#000" stroke-width="1.5"/>
<rect x="778.70" y="919.50" width="122.00" height="149.90" fill="#d0ccc8" stroke="#000" stroke-width="1.5"/>
<path d="M927.0 851.45L1070.4 851.45L1070.4 527.6L1252 527.6" fill="none" stroke="#ff0000" stroke-width="4.3" stroke-linecap="round" stroke-linejoin="miter"/>
<path d="M927.0 887.62L1102.1 887.62L1102.1 560.5L1252 560.5" fill="none" stroke="#000" stroke-width="4.3" stroke-linecap="round" stroke-linejoin="miter"/>
<g transform="translate(5 5)" fill="#000" stroke="#000" stroke-width="1.9">
<path d="M1496.8 520L1504 520L1510.5 526.5L1510.5 560L1504 567.2L1496.8 567.2Z"/>
<rect x="1432.5" y="509.2" width="64.1" height="68.3"/>
<path d="M1343 500L1433 508.6L1433 580.6L1343 587.5Z"/>
<rect x="1351.80" y="494.30" width="7" height="97.70"/>
<rect x="1366.40" y="496.24" width="7" height="93.92"/>
<rect x="1381.00" y="498.18" width="7" height="90.14"/>
<rect x="1395.60" y="500.12" width="7" height="86.36"/>
<rect x="1410.20" y="502.06" width="7" height="82.58"/>
<rect x="1424.80" y="504.00" width="7" height="78.80"/>
<path d="M1343 492.9L1343 592L1284.5 592Q1279.5 592 1279.5 587L1279.5 497.9Q1279.5 492.9 1284.5 492.9Z"/>
<rect x="1249.8" y="509.8" width="47.5" height="68.3"/>
</g>
<path d="M1496.8 520L1504 520L1510.5 526.5L1510.5 560L1504 567.2L1496.8 567.2Z" fill="#f0f0f0" stroke="#000" stroke-width="1.9"/>
<path d="M1504 520L1504 567.2" stroke="#000" stroke-width="1.5"/>
<rect x="1432.5" y="509.2" width="64.1" height="68.3" fill="#5a5a5a" stroke="#000" stroke-width="1.9"/>
<path d="M1343 500L1433 508.6L1433 580.6L1343 587.5Z" fill="#5a5a5a" stroke="#000" stroke-width="1.9"/>
<rect x="1351.80" y="494.30" width="7" height="97.70" fill="#5a5a5a" stroke="#000" stroke-width="1.9"/>
<rect x="1366.40" y="496.24" width="7" height="93.92" fill="#5a5a5a" stroke="#000" stroke-width="1.9"/>
<rect x="1381.00" y="498.18" width="7" height="90.14" fill="#5a5a5a" stroke="#000" stroke-width="1.9"/>
<rect x="1395.60" y="500.12" width="7" height="86.36" fill="#5a5a5a" stroke="#000" stroke-width="1.9"/>
<rect x="1410.20" y="502.06" width="7" height="82.58" fill="#5a5a5a" stroke="#000" stroke-width="1.9"/>
<rect x="1424.80" y="504.00" width="7" height="78.80" fill="#5a5a5a" stroke="#000" stroke-width="1.9"/>
<path d="M1343 492.9L1343 592L1284.5 592Q1279.5 592 1279.5 587L1279.5 497.9Q1279.5 492.9 1284.5 492.9Z" fill="#5a5a5a" stroke="#000" stroke-width="1.9"/>
<rect x="1249.8" y="509.8" width="47.5" height="68.3" fill="#e0dfdd" stroke="#000" stroke-width="1.9"/>
<path d="M1259.1 509.8L1259.1 578.1" fill="none" stroke="#000" stroke-width="1.9" />
<circle cx="1277.20" cy="527.60" r="11.60" fill="#e0dfdd" stroke="#000" stroke-width="1.9"/>
<circle cx="1277.20" cy="560.80" r="11.60" fill="#e0dfdd" stroke="#000" stroke-width="1.9"/>
<path d="M1305 527.3L1313 527.3M1309 523.3L1309 531.3M1304 563L1312 563" fill="none" stroke="#000" stroke-width="1.9" />
<path d="M1287.9 831.4L1520 831.4L1551.6 863.2L1551.6 1095L1520 1126.8L1287.9 1126.8L1256.3 1095L1256.3 863.2Z" transform="translate(7 7)" fill="#000"/>
<rect x="1215.6" y="929" width="45" height="110.4" fill="#000"/>
<rect x="1225.00" y="920.40" width="33.00" height="114.80" fill="#d4d4d4" stroke="#000" stroke-width="1.5"/>
<rect x="1209.80" y="923.70" width="48.20" height="109.00" fill="#f0f0f0" stroke="#000" stroke-width="1.5"/>
<path d="M1209.8 928.5L1258 928.5M1209.8 1028L1258 1028" fill="none" stroke="#000" stroke-width="1.3" />
<rect x="1245.6" y="928.5" width="2.6" height="99.5" fill="#fff"/>
<path d="M1244.6 928.5L1244.6 1028" fill="none" stroke="#000" stroke-width="2" />
<path d="M1249 928.5L1249 1028" fill="none" stroke="#000" stroke-width="1.3" />
<rect x="1209.80" y="949.90" width="33.00" height="57.30" fill="#ebebeb" stroke="#000" stroke-width="1.4"/>
<rect x="1225.30" y="936.40" width="14.50" height="9.10" fill="#f0f0f0" stroke="#000" stroke-width="1.6"/>
<path d="M1225.3 940.95L1239.8 940.95" fill="none" stroke="#000" stroke-width="1.4" />
<rect x="1225.30" y="1011.30" width="14.50" height="9.10" fill="#f0f0f0" stroke="#000" stroke-width="1.6"/>
<path d="M1225.3 1015.85L1239.8 1015.85" fill="none" stroke="#000" stroke-width="1.4" />
<rect x="1250.6" y="933.6" width="5" height="88.6" fill="#4a4a4a"/>
<rect x="1251.7" y="934.90" width="3" height="2.9" fill="#fff"/>
<rect x="1251.7" y="939.15" width="3" height="2.9" fill="#fff"/>
<rect x="1251.7" y="943.40" width="3" height="2.9" fill="#fff"/>
<path d="M1249.6 948.30L1255.6 948.30" stroke="#000" stroke-width="0.8"/>
<rect x="1251.7" y="949.50" width="3" height="2.9" fill="#fff"/>
<rect x="1251.7" y="953.75" width="3" height="2.9" fill="#fff"/>
<rect x="1251.7" y="958.00" width="3" height="2.9" fill="#fff"/>
<path d="M1249.6 962.90L1255.6 962.90" stroke="#000" stroke-width="0.8"/>
<rect x="1251.7" y="964.10" width="3" height="2.9" fill="#fff"/>
<rect x="1251.7" y="968.35" width="3" height="2.9" fill="#fff"/>
<rect x="1251.7" y="972.60" width="3" height="2.9" fill="#fff"/>
<path d="M1249.6 977.50L1255.6 977.50" stroke="#000" stroke-width="0.8"/>
<rect x="1251.7" y="978.70" width="3" height="2.9" fill="#fff"/>
<rect x="1251.7" y="982.95" width="3" height="2.9" fill="#fff"/>
<rect x="1251.7" y="987.20" width="3" height="2.9" fill="#fff"/>
<path d="M1249.6 992.10L1255.6 992.10" stroke="#000" stroke-width="0.8"/>
<rect x="1251.7" y="993.30" width="3" height="2.9" fill="#fff"/>
<rect x="1251.7" y="997.55" width="3" height="2.9" fill="#fff"/>
<rect x="1251.7" y="1001.80" width="3" height="2.9" fill="#fff"/>
<path d="M1249.6 1006.70L1255.6 1006.70" stroke="#000" stroke-width="0.8"/>
<rect x="1251.7" y="1007.90" width="3" height="2.9" fill="#fff"/>
<rect x="1251.7" y="1012.15" width="3" height="2.9" fill="#fff"/>
<rect x="1251.7" y="1016.40" width="3" height="2.9" fill="#fff"/>
<path d="M1287.9 831.4L1520 831.4L1551.6 863.2L1551.6 1095L1520 1126.8L1287.9 1126.8L1256.3 1095L1256.3 863.2Z" fill="#f0f0f0" stroke="#000" stroke-width="1.5"/>
<circle cx="1403.90" cy="979.05" r="115.40" fill="#f0f0f0" stroke="#000" stroke-width="1.4"/>
<circle cx="1403.90" cy="979.05" r="75.80" fill="#f0f0f0" stroke="#000" stroke-width="1.4"/>
<circle cx="1403.90" cy="979.05" r="30.00" fill="#a5a09c" stroke="#000" stroke-width="1.5"/>
<circle cx="1403.90" cy="979.05" r="22.20" fill="#a5a09c" stroke="#000" stroke-width="1.5"/>
<circle cx="1403.90" cy="979.05" r="17.30" fill="#a5a09c" stroke="#000" stroke-width="1.5"/>
<circle cx="1295.00" cy="869.90" r="12.30" fill="#a5a09c" stroke="#000" stroke-width="1.5"/>
<circle cx="1295.00" cy="869.90" r="7.80" fill="#a5a09c" stroke="#000" stroke-width="1.5"/>
<circle cx="1512.20" cy="869.90" r="12.30" fill="#a5a09c" stroke="#000" stroke-width="1.5"/>
<circle cx="1512.20" cy="869.90" r="7.80" fill="#a5a09c" stroke="#000" stroke-width="1.5"/>
<circle cx="1295.00" cy="1086.60" r="12.30" fill="#a5a09c" stroke="#000" stroke-width="1.5"/>
<circle cx="1295.00" cy="1086.60" r="7.80" fill="#a5a09c" stroke="#000" stroke-width="1.5"/>
<circle cx="1512.20" cy="1086.60" r="12.30" fill="#a5a09c" stroke="#000" stroke-width="1.5"/>
<circle cx="1512.20" cy="1086.60" r="7.80" fill="#a5a09c" stroke="#000" stroke-width="1.5"/>
<path d="M599.4 615.8L599.4 850.5L750.35 850.5" fill="none" stroke="#5a5a5a" stroke-width="4.3" stroke-linecap="round" stroke-linejoin="miter"/>
<path d="M556 615.8L556 1068.47L750.35 1068.47" fill="none" stroke="#ff80ff" stroke-width="4.3" stroke-linecap="round" stroke-linejoin="miter"/>
<path d="M534.2 615.8L534.2 1104.64L750.35 1104.64" fill="none" stroke="#0000cd" stroke-width="4.3" stroke-linecap="round" stroke-linejoin="miter"/>
<path d="M686.3 613.3L686.3 1173L1109.3 1173L1109.3 1068.47L927.0 1068.47" fill="none" stroke="#ff0000" stroke-width="4.3" stroke-linecap="butt" stroke-linejoin="miter"/>
<circle cx="927.0" cy="1068.47" r="2.2" fill="#ff0000"/>
<path d="M490.4 635.5L490.4 1205L1082.4 1205L1082.4 1104.64L927.0 1104.64" fill="none" stroke="#000" stroke-width="4.3" stroke-linecap="butt" stroke-linejoin="miter"/>
<circle cx="927.0" cy="1104.64" r="2.2" fill="#000"/>
<path d="M927.0 923.79L1104 923.79L1104 957.5L1241.5 957.5" fill="none" stroke="#00d278" stroke-width="4.6" stroke-linecap="round" stroke-linejoin="miter"/>
<path d="M927.0 959.96L1088.9 959.96L1088.9 971.3L1241.5 971.3" fill="none" stroke="#8c3cff" stroke-width="4.6" stroke-linecap="round" stroke-linejoin="miter"/>
<path d="M927.0 996.13L1088.9 996.13L1088.9 985.5L1241.5 985.5" fill="none" stroke="#ff8273" stroke-width="4.6" stroke-linecap="round" stroke-linejoin="miter"/>
<path d="M927.0 1032.30L1104 1032.30L1104 998.9L1241.5 998.9" fill="none" stroke="#00c8c8" stroke-width="4.6" stroke-linecap="round" stroke-linejoin="miter"/>
<rect x="985.20" y="843.45" width="35.70" height="16" fill="#fff"/>
<text x="1003.05" y="856.85" class="wl" fill="#ff0000" font-size="16.2" letter-spacing="0">12V</text>
<rect x="982.00" y="879.62" width="41.80" height="16" fill="#fff"/>
<text x="1002.90" y="893.02" class="wl" fill="#000" font-size="16.2" letter-spacing="-0.7">GND</text>
<rect x="986.90" y="915.79" width="31.60" height="16" fill="#fff"/>
<text x="1002.70" y="929.19" class="wl" fill="#00d278" font-size="16.2" letter-spacing="0">A2</text>
<rect x="988.20" y="951.96" width="29.60" height="16" fill="#fff"/>
<text x="1003.00" y="965.36" class="wl" fill="#8c3cff" font-size="16.2" letter-spacing="0">A1</text>
<rect x="988.95" y="988.13" width="27.70" height="16" fill="#fff"/>
<text x="1002.80" y="1001.53" class="wl" fill="#ff8273" font-size="16.2" letter-spacing="0">B1</text>
<rect x="987.25" y="1024.30" width="30.90" height="16" fill="#fff"/>
<text x="1002.70" y="1037.70" class="wl" fill="#00c8c8" font-size="16.2" letter-spacing="0">B2</text>
<rect x="979.45" y="1060.47" width="46.30" height="16" fill="#fff"/>
<text x="1002.60" y="1073.87" class="wl" fill="#ff0000" font-size="16.2" letter-spacing="1.3">3.3V</text>
<rect x="982.00" y="1096.64" width="41.80" height="16" fill="#fff"/>
<text x="1002.90" y="1110.04" class="wl" fill="#000" font-size="16.2" letter-spacing="-0.7">GND</text>
<rect x="622.20" y="842.50" width="26.40" height="16" fill="#fff"/>
<text x="635.40" y="855.90" class="wl" fill="#5a5a5a" font-size="16.2" letter-spacing="-0.6">EN</text>
<rect x="609.90" y="1060.47" width="49.60" height="16" fill="#fff"/>
<text x="634.70" y="1073.87" class="wl" fill="#ff80ff" font-size="16.2" letter-spacing="-0.5">STEP</text>
<rect x="616.10" y="1096.64" width="37.60" height="16" fill="#fff"/>
<text x="634.90" y="1110.04" class="wl" fill="#0000cd" font-size="16.2" letter-spacing="-0.4">DIR</text>
<path d="M504.5 573L534.3 615.8M539.5 574L556 615.8M578.6 575.5L599.4 615.8" fill="none" stroke="#000" stroke-width="1.5" />
<circle cx="534.3" cy="615.8" r="4.5" fill="#000"/>
<circle cx="556" cy="615.8" r="4.5" fill="#000"/>
<circle cx="599.4" cy="615.8" r="4.5" fill="#000"/>
<circle cx="496.40" cy="560.90" r="14.20" fill="#0000cd" stroke="#000" stroke-width="1.7"/>
<circle cx="533.90" cy="560.90" r="14.20" fill="#ff80ff" stroke="#000" stroke-width="1.7"/>
<rect x="558.7" y="546.1" width="38.2" height="30" rx="15" fill="#000"/>
<text x="495.6" y="566" class="wl" fill="#fff" font-size="14.2" letter-spacing="0">15</text>
<text x="533.3" y="566" class="wl" fill="#000" font-size="14.2" letter-spacing="0">13</text>
<text x="577.6" y="565.9" class="wl" fill="#fff" font-size="13.6" letter-spacing="-0.7">GND</text>
<rect x="33.30" y="77.30" width="195.70" height="56.90" fill="#231f20"/>
<rect x="29.30" y="73.30" width="195.70" height="56.90" fill="#fff" stroke="#3d3a3b" stroke-width="1.2"/>
<text x="51.00" y="109.00" class="lab" font-size="21.4" letter-spacing="-0.14">Raspberry Pi</text>
<rect x="383.70" y="77.30" width="227.80" height="54.10" fill="#231f20"/>
<rect x="379.70" y="73.30" width="227.80" height="54.10" fill="#fff" stroke="#3d3a3b" stroke-width="1.2"/>
<text x="399.50" y="106.50" class="lab" font-size="21.4" letter-spacing="-0.14">Pi power supply</text>
<rect x="1249.70" y="400.70" width="241.70" height="56.80" fill="#231f20"/>
<rect x="1245.70" y="396.70" width="241.70" height="56.80" fill="#fff" stroke="#3d3a3b" stroke-width="1.2"/>
<text x="1265.50" y="431.70" class="lab" font-size="21.4" letter-spacing="-0.14">12V power supply</text>
<rect x="734.30" y="724.20" width="209.20" height="82.00" fill="#231f20"/>
<rect x="730.30" y="720.20" width="209.20" height="82.00" fill="#fff" stroke="#3d3a3b" stroke-width="1.2"/>
<text x="747.60" y="754.70" class="lab" font-size="21.4" letter-spacing="-0.14">Big Tree Tech</text>
<text x="747.60" y="781.60" class="lab" font-size="21.4" letter-spacing="-0.14">TMC2209 driver</text>
<rect x="1249.70" y="726.50" width="200.00" height="71.80" fill="#231f20"/>
<rect x="1245.70" y="722.50" width="200.00" height="71.80" fill="#fff" stroke="#3d3a3b" stroke-width="1.2"/>
<text x="1262.30" y="751.40" class="lab" font-size="21.4" letter-spacing="-0.14">Nema 17</text>
<text x="1262.30" y="778.80" class="lab" font-size="21.4" letter-spacing="-0.14">stepper motor</text>
</svg>
</body>
</html>
